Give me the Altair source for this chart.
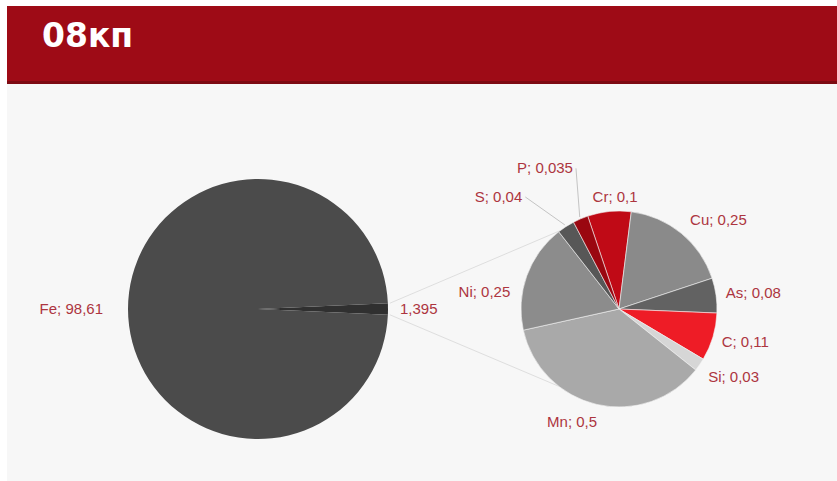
import math
import altair as alt
import pandas as pd

# ---------------- data ----------------
TITLE = "08кп"
main_names = ["other", "Fe"]
main_values = [1.395, 98.61]
main_labels = ["1,395", "Fe; 98,61"]

sub_names = ["Cr", "Cu", "As", "C", "Si", "Mn", "Ni", "S", "P"]
sub_values = [0.1, 0.25, 0.08, 0.11, 0.03, 0.5, 0.25, 0.04, 0.035]

# ---------------- styles / layout ----------------
W, H = 837, 481
BIG_C, BIG_R = (258, 309), 130
SMALL_C, SMALL_R = (619, 309), 98
SMALL_START_DEG = 341.4

main_colors = ["#303030", "#4b4b4b"]
sub_colors = ["#c00a16", "#8a8a8a", "#626262", "#ee1c26", "#d6d6d6",
              "#a9a9a9", "#8c8c8c", "#575757", "#9a0710"]
LABEL_COLOR = "#ad3540"
FONT = "Liberation Sans"

# label placement: (angle nudge from slice middle in degrees, radius, align)
sub_label_layout = {
    "Cr": (3.7, 112, "center"),
    "Cu": (-0.9, 114, "left"),
    "As": (-0.5, 108, "left"),
    "C": (1.5, 108, "left"),
    "Si": (2.6, 112, "left"),
    "Mn": (9.6, 122, "center"),
    "Ni": (-11.0, 110, "right"),
    "S": (-8.0, 148, "right"),
    "P": (5.0, 148, "right"),
}
main_label_layout = {"other": (0.0, 142, "left"), "Fe": (0.0, 155, "right")}
LEADERS = ["S", "P"]
CONNECT_DEG = (323.0, 218.0)


def fmt(v):
    return ("%g" % v).replace(".", ",")


def polar(c, r, deg):
    a = math.radians(deg)
    return c[0] + r * math.sin(a), c[1] - r * math.cos(a)


# ---------- main pie ----------
main_total = sum(main_values)
main_start = math.pi / 2 - math.pi * main_values[0] / main_total
main_df = pd.DataFrame({"name": main_names, "value": main_values,
                        "idx": list(range(len(main_names)))})
big_pie = alt.Chart(main_df).mark_arc(radius=BIG_R).encode(
    x=alt.value(BIG_C[0]), y=alt.value(BIG_C[1]),
    theta=alt.Theta("value:Q", stack=True,
                    scale=alt.Scale(range=[main_start, main_start + 2 * math.pi])),
    color=alt.Color("name:N", scale=alt.Scale(domain=main_names, range=main_colors), legend=None),
    order=alt.Order("idx:Q"),
)

# ---------- secondary pie ----------
sub_total = sum(sub_values)
s0 = math.radians(SMALL_START_DEG)
sub_df = pd.DataFrame({"name": sub_names, "value": sub_values,
                       "idx": list(range(len(sub_names)))})
small_pie = alt.Chart(sub_df).mark_arc(radius=SMALL_R, stroke="#f4f4f4", strokeWidth=0.6).encode(
    x=alt.value(SMALL_C[0]), y=alt.value(SMALL_C[1]),
    theta=alt.Theta("value:Q", stack=True,
                    scale=alt.Scale(range=[s0, s0 + 2 * math.pi])),
    color=alt.Color("name:N", scale=alt.Scale(domain=sub_names, range=sub_colors), legend=None),
    order=alt.Order("idx:Q"),
)

# ---------- label tables (positions derived from slice angles) ----------
rows = []
mid = {}
acc = 0.0
for n, v in zip(sub_names, sub_values):
    m = SMALL_START_DEG + (acc + v / 2) / sub_total * 360.0
    mid[n] = m
    acc += v
    nud, r, al = sub_label_layout[n]
    px, py = polar(SMALL_C, r, m + nud)
    rows.append({"text": f"{n}; {fmt(v)}", "px": px, "py": py, "al": al})
acc = 0.0
for n, v, lab in zip(main_names, main_values, main_labels):
    m = 90.0 + (acc + v / 2) / main_total * 360.0 - 180.0 * main_values[0] / main_total
    acc += v
    nud, r, al = main_label_layout[n]
    px, py = polar(BIG_C, r, m + nud)
    rows.append({"text": lab, "px": px, "py": py, "al": al})
lab_df = pd.DataFrame(rows)

text_layers = []
for al in ("left", "right", "center"):
    sub = lab_df[lab_df["al"] == al]
    if len(sub) == 0:
        continue
    text_layers.append(
        alt.Chart(sub).mark_text(align=al, baseline="middle", font=FONT, fontSize=15,
                                 color=LABEL_COLOR).encode(
            x=alt.X("px:Q", scale=None),
            y=alt.Y("py:Q", scale=None),
            text="text:N",
        )
    )

# ---------- leader lines & connectors ----------
seg = []
for n in LEADERS:
    nud, r, al = sub_label_layout[n]
    lx, ly = polar(SMALL_C, r, mid[n] + nud)
    ex, ey = polar(SMALL_C, SMALL_R + 2, mid[n])
    seg.append({"x": lx + 3, "y": ly, "x2": ex, "y2": ey, "kind": "leader"})
half = 180.0 * main_values[0] / main_total
for bdeg, sdeg in ((90 - half, CONNECT_DEG[0]), (90 + half, CONNECT_DEG[1])):
    bx, by = polar(BIG_C, BIG_R + 2, bdeg)
    sx, sy = polar(SMALL_C, SMALL_R, sdeg)
    seg.append({"x": bx, "y": by, "x2": sx, "y2": sy, "kind": "connector"})
seg_df = pd.DataFrame(seg)
lines = alt.Chart(seg_df).mark_rule(strokeWidth=1).encode(
    x=alt.X("x:Q", scale=None), y=alt.Y("y:Q", scale=None),
    x2="x2:Q", y2="y2:Q",
    color=alt.Color("kind:N", scale=alt.Scale(domain=["leader", "connector"],
                                              range=["#c4c4c4", "#dedede"]), legend=None),
)

# ---------- background & title ----------
one = pd.DataFrame({"a": [0]})
panel = alt.Chart(one).mark_rect(color="#f7f7f7").encode(
    x=alt.value(7), x2=alt.value(W), y=alt.value(84), y2=alt.value(H))
bar = alt.Chart(one).mark_rect(color="#9e0b16").encode(
    x=alt.value(7), x2=alt.value(W), y=alt.value(6), y2=alt.value(82))
bar_edge = alt.Chart(one).mark_rect(color="#7d0a12").encode(
    x=alt.value(7), x2=alt.value(W), y=alt.value(81), y2=alt.value(84))
title = alt.Chart(one).mark_text(align="left", baseline="alphabetic", font="DejaVu Sans",
                                 fontWeight="bold", fontSize=33, color="white").encode(
    x=alt.value(42), y=alt.value(47), text=alt.value(TITLE))

chart = alt.layer(panel, bar, bar_edge, title, lines, big_pie, small_pie, *text_layers).resolve_scale(
    theta="independent", color="independent",
).properties(
    width=W, height=H, padding=0, autosize=alt.AutoSizeParams(type="none"),
    background="white",
).configure_view(stroke=None)

chart.save("out.html", embed_options={"renderer": "svg", "actions": False})
